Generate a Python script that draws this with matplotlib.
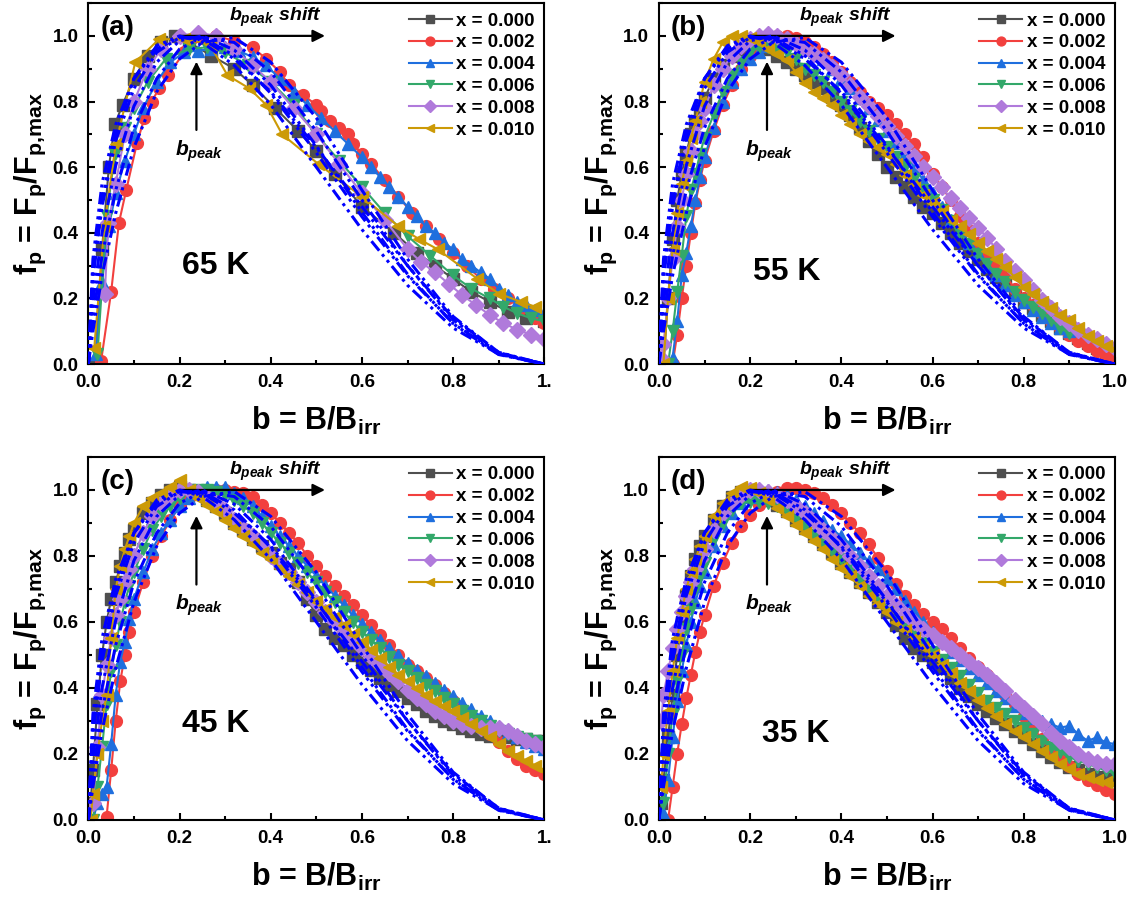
import numpy as np
import matplotlib
matplotlib.use('Agg')
import matplotlib.pyplot as plt
from matplotlib.ticker import MultipleLocator

plt.rcParams['font.family'] = 'Liberation Sans'
plt.rcParams['font.weight'] = 'bold'
plt.rcParams['axes.labelweight'] = 'bold'
plt.rcParams['mathtext.fontset'] = 'custom'
plt.rcParams['mathtext.rm'] = 'Liberation Sans:bold'
plt.rcParams['mathtext.bf'] = 'Liberation Sans:bold'
plt.rcParams['mathtext.it'] = 'Liberation Sans:italic:bold'
plt.rcParams['mathtext.default'] = 'bf'

nan = np.nan

labels = ['x = 0.000', 'x = 0.002', 'x = 0.004', 'x = 0.006', 'x = 0.008', 'x = 0.010']
colors = ['#4F4F4F', '#F2403E', '#1F6FDE', '#33A86A', '#B07ADB', '#CC9A06']
markers = ['s', 'o', '^', 'v', 'D', '<']
temps = ['65 K', '55 K', '45 K', '35 K']
panels = ['(a)', '(b)', '(c)', '(d)']

# ---- 65 K : each sample has its own field points
b_65K = [
    [0.015, 0.03, 0.045, 0.058, 0.075, 0.10, 0.13, 0.16, 0.19, 0.22, 0.27, 0.32, 0.36, 0.41,
     0.46, 0.50, 0.54, 0.60, 0.67, 0.72, 0.76, 0.80, 0.84, 0.88, 0.92, 0.96, 1.0],
    [0.028, 0.05, 0.067, 0.083, 0.107, 0.123, 0.139, 0.155, 0.175, 0.21, 0.25, 0.28, 0.32,
     0.36, 0.39, 0.42, 0.44, 0.47, 0.50, 0.51, 0.53, 0.55, 0.57, 0.58, 0.60, 0.62, 0.65,
     0.68, 0.71, 0.74, 0.77, 0.80, 0.83, 0.86, 0.89, 0.92, 0.95, 0.98, 1.0],
    [0.016, 0.03, 0.045, 0.06, 0.08, 0.10, 0.12, 0.15, 0.18, 0.21, 0.24, 0.27, 0.30, 0.33,
     0.36, 0.39, 0.42, 0.45, 0.48, 0.51, 0.54, 0.57, 0.60, 0.62, 0.64, 0.66, 0.68, 0.70,
     0.72, 0.74, 0.76, 0.78, 0.80, 0.82, 0.84, 0.86, 0.88, 0.90, 0.92, 0.94, 0.96, 0.98, 1.0],
    [0.02, 0.04, 0.058, 0.08, 0.10, 0.13, 0.17, 0.22, 0.26, 0.30, 0.35, 0.40, 0.45, 0.50,
     0.55, 0.60, 0.65, 0.70, 0.75, 0.80, 0.84, 0.88, 0.91, 0.94, 0.97, 1.0],
    [0.036, 0.044, 0.06, 0.08, 0.10, 0.13, 0.16, 0.20, 0.24, 0.28, 0.32, 0.36, 0.40, 0.45,
     0.50, 0.55, 0.60, 0.65, 0.70, 0.73, 0.76, 0.79, 0.82, 0.85, 0.88, 0.91, 0.94, 0.97, 1.0],
    [0.013, 0.035, 0.06, 0.103, 0.155, 0.21, 0.266, 0.305, 0.353, 0.39, 0.425, 0.504, 0.60,
     0.68, 0.726, 0.766, 0.853, 0.90, 0.948, 0.98],
]
f_65K = [
    [0.0, 0.35, 0.60, 0.73, 0.79, 0.87, 0.94, 0.98, 1.0, 0.98, 0.94, 0.90, 0.85, 0.78,
     0.71, 0.65, 0.58, 0.48, 0.40, 0.34, 0.30, 0.26, 0.22, 0.19, 0.16, 0.14, 0.13],
    [0.01, 0.22, 0.43, 0.53, 0.675, 0.75, 0.80, 0.84, 0.88, 0.95, 0.995, 1.0, 0.985,
     0.965, 0.93, 0.89, 0.85, 0.82, 0.79, 0.77, 0.74, 0.72, 0.70, 0.67, 0.64, 0.61, 0.56,
     0.51, 0.46, 0.42, 0.38, 0.34, 0.30, 0.26, 0.23, 0.20, 0.17, 0.14, 0.125],
    [0.03, 0.25, 0.42, 0.52, 0.62, 0.70, 0.78, 0.86, 0.92, 0.95, 0.955, 0.96, 0.965, 0.955,
     0.935, 0.91, 0.87, 0.83, 0.79, 0.75, 0.71, 0.67, 0.63, 0.60, 0.57, 0.54, 0.51, 0.48,
     0.45, 0.42, 0.40, 0.37, 0.35, 0.32, 0.30, 0.28, 0.26, 0.23, 0.21, 0.19, 0.18, 0.165, 0.155],
    [0.03, 0.45, 0.64, 0.72, 0.78, 0.86, 0.93, 0.96, 0.965, 0.95, 0.91, 0.86, 0.79, 0.70,
     0.62, 0.54, 0.46, 0.39, 0.33, 0.27, 0.23, 0.20, 0.175, 0.155, 0.14, 0.13],
    [0.215, 0.43, 0.55, 0.70, 0.80, 0.90, 0.96, 1.0, 1.01, 1.0, 0.96, 0.91, 0.86, 0.78,
     0.70, 0.61, 0.52, 0.44, 0.35, 0.31, 0.28, 0.245, 0.21, 0.18, 0.15, 0.125, 0.105, 0.09, 0.075],
    [0.05, 0.42, 0.67, 0.92, 0.99, 0.99, 0.975, 0.88, 0.84, 0.79, 0.70, 0.61, 0.51, 0.42,
     0.38, 0.35, 0.26, 0.215, 0.19, 0.175],
]

# ---- 55 K, 45 K, 35 K : common reduced-field grid
b_grid = [0.005, 0.01, 0.02, 0.03, 0.04, 0.05, 0.06, 0.07, 0.08, 0.09, 0.10,
          0.12, 0.14, 0.16, 0.18, 0.20, 0.22, 0.24, 0.26, 0.28, 0.30,
          0.32, 0.34, 0.36, 0.38, 0.40, 0.42, 0.44, 0.46, 0.48, 0.50,
          0.52, 0.54, 0.56, 0.58, 0.60, 0.62, 0.64, 0.66, 0.68, 0.70,
          0.72, 0.74, 0.76, 0.78, 0.80, 0.82, 0.84, 0.86, 0.88, 0.90,
          0.92, 0.94, 0.96, 0.98, 1.00]

f_55K = [
    [nan, 0.00, 0.20, 0.38, 0.50, 0.58, 0.64, 0.70, 0.74, 0.78, 0.81,
     0.87, 0.91, 0.94, 0.96, 0.975, 0.97, 0.96, 0.94, 0.92, 0.90,
     0.88, 0.86, 0.84, 0.815, 0.79, 0.76, 0.72, 0.68, 0.64, 0.60,
     0.57, 0.54, 0.51, 0.48, 0.46, 0.43, 0.40, 0.37, 0.345, 0.32,
     0.29, 0.265, 0.24, 0.215, 0.19, 0.17, 0.15, 0.13, 0.11, 0.095,
     0.08, 0.065, 0.05, 0.035, 0.02],
    [nan, nan, nan, 0.00, 0.09, 0.20, 0.30, 0.40, 0.49, 0.56, 0.62,
     0.71, 0.79, 0.85, 0.90, 0.94, 0.97, 0.99, 1.00, 1.00, 0.995,
     0.98, 0.965, 0.945, 0.92, 0.89, 0.86, 0.83, 0.80, 0.78, 0.76,
     0.73, 0.70, 0.67, 0.63, 0.58, 0.54, 0.50, 0.45, 0.41, 0.37,
     0.33, 0.30, 0.27, 0.23, 0.20, 0.18, 0.155, 0.13, 0.11, 0.09,
     0.07, 0.055, 0.04, 0.025, 0.013],
    [nan, nan, nan, 0.02, 0.13, 0.27, 0.34, 0.42, 0.50, 0.57, 0.63,
     0.72, 0.80, 0.86, 0.90, 0.93, 0.95, 0.97, 0.985, 0.99, 0.985,
     0.97, 0.95, 0.93, 0.90, 0.87, 0.84, 0.81, 0.78, 0.745, 0.71,
     0.675, 0.64, 0.60, 0.56, 0.52, 0.48, 0.44, 0.41, 0.37, 0.34,
     0.30, 0.27, 0.24, 0.21, 0.19, 0.165, 0.145, 0.125, 0.11, 0.10,
     nan, nan, nan, nan, nan],
    [nan, nan, 0.00, 0.10, 0.22, 0.33, 0.45, 0.53, 0.58, 0.64, 0.69,
     0.76, 0.83, 0.88, 0.92, 0.95, 0.965, 0.965, 0.96, 0.95, 0.93,
     0.90, 0.88, 0.86, 0.83, 0.80, 0.77, 0.74, 0.71, 0.685, 0.66,
     0.63, 0.60, 0.565, 0.53, 0.50, 0.47, 0.435, 0.40, 0.365, 0.335,
     0.305, 0.275, 0.25, 0.22, 0.195, 0.175, 0.155, 0.135, 0.11, 0.094,
     nan, nan, nan, nan, nan],
    [0.02, 0.06, 0.20, 0.32, 0.42, 0.50, 0.58, 0.65, 0.70, 0.74, 0.78,
     0.85, 0.90, 0.94, 0.97, 0.99, 1.00, 1.005, 1.00, 0.99, 0.975,
     0.96, 0.945, 0.925, 0.905, 0.88, 0.85, 0.815, 0.785, 0.755, 0.725,
     0.695, 0.665, 0.635, 0.60, 0.57, 0.54, 0.505, 0.475, 0.445, 0.415,
     0.385, 0.35, 0.315, 0.285, 0.255, 0.225, 0.195, 0.17, 0.145, 0.125,
     0.105, 0.09, 0.075, 0.06, 0.05],
    [nan, 0.00, 0.20, 0.35, 0.46, 0.55, 0.62, 0.69, 0.74, 0.80, 0.86,
     0.93, 0.98, 1.00, 1.00, 0.995, 0.98, 0.96, 0.945, 0.925, 0.89,
     0.855, 0.83, 0.81, 0.79, 0.76, 0.73, 0.70, 0.68, 0.66, 0.64,
     0.61, 0.575, 0.545, 0.515, 0.49, 0.465, 0.44, 0.42, 0.395, 0.37,
     0.345, 0.32, 0.295, 0.265, 0.235, 0.215, 0.19, 0.17, 0.15, 0.135,
     0.11, 0.085, 0.07, 0.055, 0.045],
]

f_45K = [
    [0.05, 0.15, 0.35, 0.50, 0.60, 0.67, 0.72, 0.77, 0.81, 0.85, 0.88,
     0.93, 0.96, 0.985, 1.0, 1.01, 1.0, 0.99, 0.97, 0.95, 0.93,
     0.90, 0.88, 0.85, 0.83, 0.81, 0.78, 0.76, 0.72, 0.67, 0.62,
     0.58, 0.55, 0.53, 0.50, 0.48, 0.455, 0.43, 0.41, 0.39, 0.37,
     0.35, 0.33, 0.315, 0.30, 0.29, 0.28, 0.27, 0.26, 0.255, 0.25,
     0.25, 0.245, 0.245, 0.24, 0.24],
    [nan, nan, nan, nan, 0.01, 0.15, 0.30, 0.42, 0.50, 0.57, 0.63,
     0.72, 0.80, 0.86, 0.91, 0.95, 0.975, 0.99, 1.0, 1.0, 1.0,
     0.995, 0.99, 0.98, 0.955, 0.93, 0.90, 0.87, 0.84, 0.80, 0.77,
     0.74, 0.71, 0.68, 0.65, 0.62, 0.59, 0.56, 0.53, 0.50, 0.47,
     0.45, 0.43, 0.41, 0.385, 0.36, 0.335, 0.31, 0.285, 0.26, 0.235,
     0.21, 0.185, 0.165, 0.15, 0.14],
    [nan, 0.00, 0.05, 0.08, 0.10, 0.23, 0.38, 0.48, 0.54, 0.61, 0.67,
     0.75, 0.82, 0.87, 0.91, 0.95, 0.975, 0.995, 1.01, 1.01, 1.01,
     0.99, 0.975, 0.95, 0.92, 0.89, 0.86, 0.83, 0.80, 0.77, 0.74,
     0.71, 0.68, 0.65, 0.62, 0.595, 0.57, 0.545, 0.52, 0.50, 0.475,
     0.455, 0.435, 0.415, 0.395, 0.375, 0.355, 0.335, 0.315, 0.30, 0.28,
     0.265, 0.25, 0.235, 0.225, 0.215],
    [nan, 0.00, 0.10, 0.22, 0.35, 0.45, 0.53, 0.60, 0.66, 0.71, 0.75,
     0.82, 0.88, 0.92, 0.95, 0.975, 0.99, 1.0, 1.0, 0.995, 0.985,
     0.97, 0.95, 0.93, 0.90, 0.87, 0.84, 0.81, 0.78, 0.75, 0.72,
     0.69, 0.66, 0.63, 0.60, 0.57, 0.545, 0.52, 0.495, 0.47, 0.45,
     0.43, 0.41, 0.39, 0.37, 0.35, 0.33, 0.315, 0.30, 0.285, 0.27,
     0.26, 0.25, 0.245, 0.24, 0.235],
    [nan, 0.05, 0.22, 0.38, 0.47, 0.55, 0.62, 0.67, 0.72, 0.76, 0.80,
     0.87, 0.92, 0.96, 0.985, 1.0, 1.0, 0.995, 0.98, 0.96, 0.94,
     0.91, 0.885, 0.86, 0.83, 0.80, 0.775, 0.75, 0.72, 0.69, 0.66,
     0.63, 0.60, 0.57, 0.545, 0.52, 0.495, 0.47, 0.445, 0.42, 0.395,
     0.37, 0.35, 0.33, 0.315, 0.30, 0.29, 0.285, 0.28, 0.28, 0.28,
     0.27, 0.255, 0.24, 0.23, 0.22],
    [0.00, 0.08, 0.20, 0.30, 0.38, 0.55, 0.70, 0.77, 0.82, 0.86, 0.90,
     0.95, 0.975, 0.99, 1.01, 1.03, 1.0, 0.975, 0.955, 0.935, 0.91,
     0.885, 0.86, 0.835, 0.81, 0.79, 0.765, 0.74, 0.715, 0.69, 0.665,
     0.64, 0.615, 0.59, 0.565, 0.54, 0.515, 0.49, 0.465, 0.44, 0.42,
     0.40, 0.38, 0.36, 0.345, 0.33, 0.31, 0.29, 0.27, 0.25, 0.23,
     0.21, 0.195, 0.18, 0.165, 0.15],
]

f_35K = [
    [0.05, 0.12, 0.25, 0.38, 0.50, 0.60, 0.68, 0.74, 0.79, 0.83, 0.86,
     0.91, 0.95, 0.98, 0.995, 1.0, 0.99, 0.97, 0.955, 0.935, 0.91,
     0.885, 0.86, 0.835, 0.81, 0.78, 0.75, 0.72, 0.69, 0.66, 0.63,
     0.59, 0.55, 0.52, 0.50, 0.48, 0.46, 0.43, 0.40, 0.375, 0.35,
     0.33, 0.31, 0.29, 0.27, 0.25, 0.23, 0.21, 0.19, 0.175, 0.16,
     0.15, 0.14, 0.13, 0.125, 0.12],
    [nan, nan, 0.00, 0.10, 0.20, 0.29, 0.37, 0.44, 0.51, 0.57, 0.62,
     0.71, 0.78, 0.84, 0.89, 0.925, 0.955, 0.98, 0.995, 1.005, 1.005,
     1.0, 0.99, 0.975, 0.955, 0.93, 0.90, 0.87, 0.835, 0.795, 0.755,
     0.715, 0.68, 0.65, 0.625, 0.60, 0.58, 0.55, 0.52, 0.49, 0.465,
     0.44, 0.41, 0.38, 0.35, 0.315, 0.28, 0.245, 0.215, 0.19, 0.165,
     0.14, 0.12, 0.105, 0.09, 0.08],
    [nan, 0.02, 0.12, 0.25, 0.36, 0.45, 0.53, 0.60, 0.66, 0.71, 0.75,
     0.83, 0.89, 0.93, 0.96, 0.98, 0.99, 1.0, 0.995, 0.985, 0.97,
     0.95, 0.93, 0.905, 0.88, 0.86, 0.835, 0.81, 0.785, 0.76, 0.73,
     0.70, 0.665, 0.63, 0.60, 0.57, 0.54, 0.51, 0.485, 0.46, 0.44,
     0.415, 0.39, 0.37, 0.345, 0.325, 0.31, 0.30, 0.29, 0.28, 0.285,
     0.26, 0.24, 0.25, 0.235, 0.23],
    [nan, 0.05, 0.20, 0.32, 0.42, 0.50, 0.58, 0.64, 0.70, 0.74, 0.78,
     0.85, 0.90, 0.94, 0.96, 0.965, 0.965, 0.96, 0.95, 0.935, 0.915,
     0.89, 0.865, 0.84, 0.815, 0.79, 0.76, 0.73, 0.70, 0.67, 0.64,
     0.61, 0.585, 0.56, 0.535, 0.51, 0.485, 0.46, 0.435, 0.41, 0.385,
     0.36, 0.34, 0.32, 0.30, 0.28, 0.26, 0.24, 0.22, 0.205, 0.19,
     0.18, 0.17, 0.16, 0.15, 0.14],
    [0.30, 0.38, 0.45, 0.52, 0.58, 0.63, 0.68, 0.72, 0.76, 0.79, 0.82,
     0.88, 0.93, 0.96, 0.985, 1.0, 1.0, 0.995, 0.985, 0.97, 0.95,
     0.93, 0.905, 0.88, 0.855, 0.83, 0.80, 0.77, 0.74, 0.71, 0.68,
     0.65, 0.625, 0.60, 0.58, 0.56, 0.54, 0.52, 0.50, 0.48, 0.46,
     0.44, 0.415, 0.39, 0.365, 0.34, 0.315, 0.29, 0.265, 0.24, 0.22,
     0.20, 0.185, 0.175, 0.17, 0.17],
    [0.10, 0.20, 0.33, 0.45, 0.55, 0.63, 0.70, 0.75, 0.79, 0.83, 0.86,
     0.92, 0.96, 0.99, 1.01, 1.005, 0.99, 0.97, 0.945, 0.92, 0.895,
     0.87, 0.845, 0.82, 0.79, 0.765, 0.74, 0.71, 0.68, 0.655, 0.63,
     0.60, 0.575, 0.55, 0.525, 0.50, 0.47, 0.445, 0.415, 0.39, 0.365,
     0.34, 0.315, 0.29, 0.27, 0.25, 0.23, 0.21, 0.19, 0.17, 0.155,
     0.14, 0.13, 0.12, 0.115, 0.11],
]

# ---- scaling-law fit curves (blue dash-dot-dot)
fit_b = [0.0, 0.01, 0.03, 0.06, 0.10, 0.15, 0.20, 0.25, 0.32, 0.40, 0.50, 0.60, 0.70, 0.80, 0.90, 1.0]
fit_f = [
    [0.0, 0.28, 0.50, 0.70, 0.87, 0.97, 1.00, 0.98, 0.91, 0.79, 0.60, 0.41, 0.24, 0.11, 0.03, 0.0],
    [0.0, 0.26, 0.48, 0.68, 0.84, 0.95, 0.995, 0.995, 0.94, 0.825, 0.644, 0.449, 0.269, 0.124, 0.031, 0.0],
    [0.0, 0.19, 0.40, 0.605, 0.786, 0.92, 0.985, 1.0, 0.957, 0.85, 0.665, 0.463, 0.274, 0.123, 0.029, 0.0],
    [0.0, 0.14, 0.33, 0.53, 0.72, 0.87, 0.96, 0.995, 0.98, 0.89, 0.71, 0.50, 0.30, 0.135, 0.033, 0.0],
    [0.0, 0.10, 0.27, 0.46, 0.66, 0.83, 0.93, 0.98, 0.995, 0.92, 0.75, 0.53, 0.32, 0.145, 0.035, 0.0],
    [0.0, 0.32, 0.55, 0.73, 0.87, 0.96, 0.995, 0.99, 0.93, 0.83, 0.66, 0.48, 0.30, 0.14, 0.036, 0.0],
]

all_b = [b_65K, [b_grid] * 6, [b_grid] * 6, [b_grid] * 6]
all_f = [f_65K, f_55K, f_45K, f_35K]
temp_pos = [(0.28, 0.30), (0.28, 0.28), (0.28, 0.29), (0.30, 0.26)]
last_tick = ['1.', '1.0', '1.', '1.0']

fig = plt.figure(figsize=(11.4, 8.99), dpi=100)
rects = [[0.0775, 0.595, 0.40, 0.4016], [0.578, 0.595, 0.40, 0.4016],
         [0.0775, 0.0879, 0.40, 0.4038], [0.578, 0.0879, 0.40, 0.4038]]

for k in range(4):
    ax = fig.add_axes(rects[k])
    for i in range(6):
        ax.plot(all_b[k][i], all_f[k][i], color=colors[i], marker=markers[i], ms=8.5,
                mec=colors[i], mfc=colors[i], lw=1.5, label=labels[i])
    for ff in fit_f:
        ax.plot(fit_b, ff, color='#0000FF', lw=2.2, dashes=(4, 1.5, 1, 1.5, 1, 1.5), zorder=5)

    ax.set_xlim(0, 1.0)
    ax.set_ylim(0, 1.1)
    ax.xaxis.set_minor_locator(MultipleLocator(0.1))
    ax.yaxis.set_major_locator(MultipleLocator(0.2))
    ax.yaxis.set_minor_locator(MultipleLocator(0.1))
    ax.set_xticks([0, 0.2, 0.4, 0.6, 0.8, 1.0])
    ax.set_xticklabels(['0.0', '0.2', '0.4', '0.6', '0.8', last_tick[k]])
    ax.tick_params(which='both', direction='in', width=1.5, labelsize=13.5, pad=7)
    ax.tick_params(which='major', length=5)
    ax.tick_params(which='minor', length=3)
    for sp in ax.spines.values():
        sp.set_linewidth(1.5)

    ax.set_xlabel(r'b = B/B$_{irr}$', fontsize=22, labelpad=10)
    ax.set_ylabel(r'f$_{p}$ = F$_{p}$/F$_{p{,}max}$', fontsize=22, labelpad=3)

    ax.legend(loc='upper right', frameon=False, fontsize=13.5, handlelength=2.3,
              handletextpad=0.25, labelspacing=0.25, borderaxespad=0.3,
              markerscale=0.75, borderpad=0.2)

    ax.text(0.065, 1.025, panels[k], fontsize=20, ha='center', va='center')
    ax.text(temp_pos[k][0], temp_pos[k][1], temps[k], fontsize=23, ha='center', va='center')

    ax.annotate('', xy=(0.525, 1.0), xytext=(0.195, 1.0),
                arrowprops=dict(arrowstyle='-|>', color='k', lw=1.6, mutation_scale=18))
    ax.text(0.41, 1.055, r'$\mathit{b_{peak}\ shift}$', fontsize=14, ha='center', va='center')
    ax.annotate('', xy=(0.237, 0.93), xytext=(0.237, 0.705),
                arrowprops=dict(arrowstyle='-|>', color='k', lw=1.6, mutation_scale=18))
    ax.text(0.243, 0.65, r'$\mathit{b_{peak}}$', fontsize=15, ha='center', va='center')

fig.savefig('out.png', dpi=100)
